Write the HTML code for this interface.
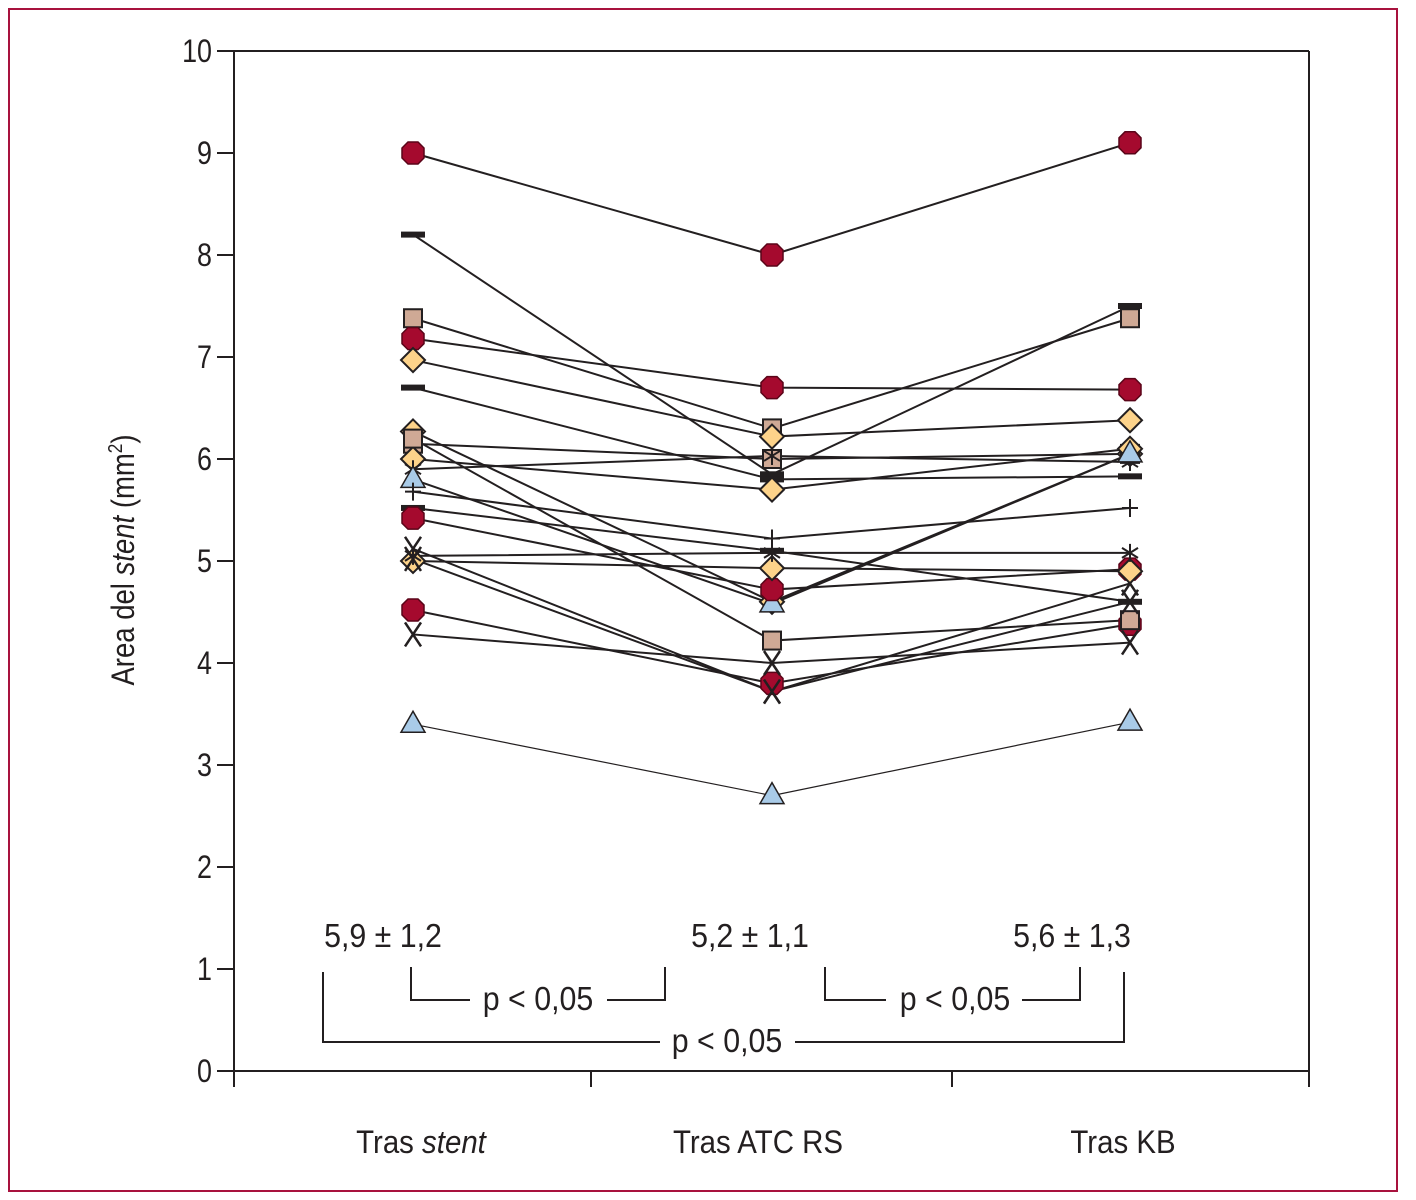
<!DOCTYPE html>
<html><head><meta charset="utf-8"><style>
html,body{margin:0;padding:0;background:#fff}
svg{display:block}
text{font-family:"Liberation Sans",sans-serif;fill:#231f20}
</style></head><body>
<svg id="chart" width="1416" height="1200" viewBox="0 0 1416 1200" xmlns="http://www.w3.org/2000/svg">
<rect x="9" y="9" width="1388" height="1182" fill="none" stroke="#a8123e" stroke-width="2"/>
<g id="axes"></g>
<g id="lines"></g>
<g id="marks"></g>
<g id="annot"></g>
</svg>
<script>
const categories = ["Tras stent", "Tras ATC RS", "Tras KB"];
const yTicks = [0,1,2,3,4,5,6,7,8,9,10];
const markerTypes = ["circle","dash","square","circle","diamond","dash","diamond","square","diamond","star","triangle","plus","dash","circle","x","diamond","star","circle","x","square","triangle","x"];
const valuesStent = [9.0,8.2,7.38,7.18,6.97,6.7,6.27,6.15,6.0,5.9,5.8,5.68,5.52,5.42,5.12,5.0,5.05,4.52,4.28,6.2,3.4,5.02];
const valuesRS    = [8.0,5.85,6.3,6.7,6.22,5.8,4.6,6.0,5.7,6.03,4.58,5.22,5.1,4.72,3.72,4.93,5.08,3.8,4.0,4.22,2.7,3.72];
const valuesKB    = [9.1,7.5,7.38,6.68,6.38,5.83,6.05,6.05,6.1,5.97,6.05,5.52,4.6,4.92,4.78,4.9,5.08,4.38,4.2,4.42,3.42,4.6];
const summaryLabels = ["5,9 \u00b1 1,2","5,2 \u00b1 1,1","5,6 \u00b1 1,3"];

const NS="http://www.w3.org/2000/svg";
const X0=234,X1=1309,Y0=1071,Y10=51;
const catX=[413,772,1130];
function yScale(v){return Y0-(v/10)*(Y0-Y10);}
function xScale(i){return catX[i];}
function mk(tag,attrs,parent){const e=document.createElementNS(NS,tag);for(const k in attrs)e.setAttribute(k,attrs[k]);parent.appendChild(e);return e;}
const axes=document.getElementById('axes'),lines=document.getElementById('lines'),marks=document.getElementById('marks'),annot=document.getElementById('annot');
function txt(s,x,y,size,anchor,parent,name,sx){
  const g=mk('g',{transform:`translate(${x},${y}) scale(${sx||0.84},1)`},parent);
  const t=mk('text',{x:0,y:0,'font-size':size,'text-anchor':anchor},g);
  t.textContent=s;
  
  
  return t;
}
let a;
a=mk('line',{x1:X0,y1:Y10,x2:X0,y2:Y0,stroke:'#231f20','stroke-width':2},axes);

a=mk('line',{x1:X0,y1:Y10,x2:X1,y2:Y10,stroke:'#231f20','stroke-width':2},axes);

a=mk('line',{x1:X1,y1:Y10,x2:X1,y2:1087,stroke:'#231f20','stroke-width':2},axes);

a=mk('line',{x1:X0,y1:Y0,x2:X1,y2:Y0,stroke:'#231f20','stroke-width':2},axes);

[X0,591,952,X1].forEach(x=>{const l=mk('line',{x1:x,y1:Y0,x2:x,y2:1087,stroke:'#231f20','stroke-width':2},axes);

});
yTicks.forEach(v=>{const y=yScale(v);
const l=mk('line',{x1:217,y1:y,x2:X0,y2:y,stroke:'#231f20','stroke-width':2},axes);


txt(String(v),212,y+11,32,'end',axes,'y-tick-label');});
const yt=mk('text',{x:0,y:0,'font-size':32,'text-anchor':'middle',transform:'translate(134,560) rotate(-90) scale(0.86,1)'},axes);

yt.innerHTML='Area del <tspan font-style="italic">stent</tspan> (mm<tspan font-size="20" dy="-12">2</tspan><tspan dy="12">)</tspan>';
categories.forEach((c,i)=>{
  const cx=[421,758,1123][i];
  const g=mk('g',{transform:`translate(${cx},1153) scale(0.92,1)`},axes);
  const t=mk('text',{x:0,y:0,'font-size':32,'text-anchor':'middle'},g);
  
  if(i===0){t.innerHTML='Tras <tspan font-style="italic">stent</tspan>';}else t.textContent=c;
});
const n=markerTypes.length;
for(let s=0;s<n;s++){
  const vals=[valuesStent[s],valuesRS[s],valuesKB[s]];
  const pts=vals.map((v,i)=>xScale(i)+','+yScale(v)).join(' ');
  const pl=mk('polyline',{points:pts,fill:'none',stroke:'#231f20','stroke-width':s===20?1.2:2},lines);
  
  
}
function marker(type,x,y){
  let e;const st='#231f20';
  if(type==='circle'){
    e=mk('polygon',{points:[[-5,-11],[5,-11],[11,-5],[11,5],[5,11],[-5,11],[-11,5],[-11,-5]].map(p=>(x+p[0])+','+(y+p[1])).join(' '),fill:'#a50a2e',stroke:'#5a0418','stroke-width':1.5},marks);
  }else if(type==='square'){
    e=mk('rect',{x:x-9,y:y-9,width:18,height:18,fill:'#cfa995',stroke:st,'stroke-width':2},marks);
  }else if(type==='diamond'){
    e=mk('polygon',{points:`${x},${y-12} ${x+12},${y} ${x},${y+12} ${x-12},${y}`,fill:'#fdd38a',stroke:st,'stroke-width':2},marks);
  }else if(type==='triangle'){
    e=mk('polygon',{points:`${x},${y-13} ${x+12},${y+8} ${x-12},${y+8}`,fill:'#a9cbe8',stroke:st,'stroke-width':1.5},marks);
  }else if(type==='dash'){
    e=mk('rect',{x:x-12,y:y-3,width:24,height:6,fill:st},marks);
  }else if(type==='plus'){
    e=mk('path',{d:`M${x-8},${y}H${x+8}M${x},${y-9}V${y+9}`,stroke:st,'stroke-width':2,fill:'none'},marks);
  }else if(type==='x'){
    e=mk('path',{d:`M${x-8},${y-12}L${x+8},${y+12}M${x+8},${y-12}L${x-8},${y+12}`,stroke:st,'stroke-width':2.5,fill:'none'},marks);
  }else{
    e=mk('path',{d:`M${x-8},${y-5}L${x+8},${y+5}M${x+8},${y-5}L${x-8},${y+5}M${x},${y-9}V${y+9}`,stroke:st,'stroke-width':2,fill:'none'},marks);
  }
  return e;
}
for(let s=0;s<n;s++){
  const vals=[valuesStent[s],valuesRS[s],valuesKB[s]];
  vals.forEach((v,i)=>{const e=marker(markerTypes[s],xScale(i),yScale(v));
  
  });
}
[383,750,1072].forEach((x,i)=>txt(summaryLabels[i],x,947,33,'middle',annot,'summary-label',0.92));
function bracket(d,name){const p=mk('path',{d:d,fill:'none',stroke:'#231f20','stroke-width':2},annot);
}
bracket('M411,967V1000H470M607,1000H665V967','bracket-stent-rs');
bracket('M825,967V1000H886M1022,1000H1080V967','bracket-rs-kb');
bracket('M323,972V1042H660M795,1042H1124V972','bracket-stent-kb');
txt('p < 0,05',538,1010,33,'middle',annot,'p-value-label',0.92);
txt('p < 0,05',955,1010,33,'middle',annot,'p-value-label',0.92);
txt('p < 0,05',727,1052,33,'middle',annot,'p-value-label',0.92);
</script>
</body></html>
